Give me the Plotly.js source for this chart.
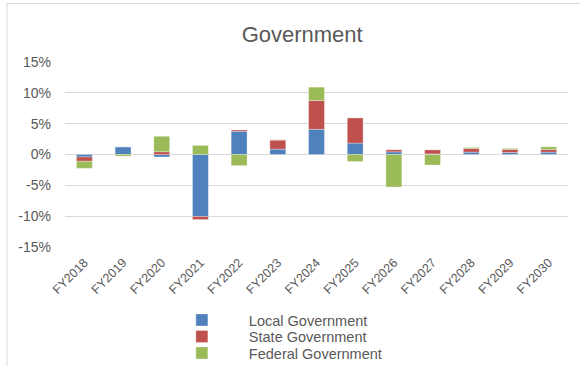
<!DOCTYPE html>
<html>
<head>
<meta charset="utf-8">
<script src="https://cdn.plot.ly/plotly-3.0.1.min.js"></script>
<style>html,body{margin:0;padding:0;background:#fff;}#chart{width:580px;height:366px;}</style>
</head>
<body>
<div id="chart"></div>
<script>
var categories = ['FY2018','FY2019','FY2020','FY2021','FY2022','FY2023','FY2024','FY2025','FY2026','FY2027','FY2028','FY2029','FY2030'];
var localGov   = [-0.40, 1.25, -0.40, -10.05, 3.75, 0.87, 4.08, 1.85, 0.43, 0.10, 0.38, 0.33, 0.38];
var stateGov   = [-0.70, 0.00, 0.45, -0.50, 0.22, 1.47, 4.67, 4.08, 0.33, 0.65, 0.60, 0.49, 0.43];
var federalGov = [-1.14, -0.27, 2.50, 1.47, -1.80, 0.05, 2.17, -1.14, -5.27, -1.70, 0.16, 0.16, 0.43];
var yTickVals = [-15, -10, -5, 0, 5, 10, 15];
var yTickText = ['-15%', '-10%', '-5%', '0%', '5%', '10%', '15%'];

var font = 'Arial, "Liberation Sans", sans-serif';
var textColor = '#595959';

function trace(name, y, color, legendId) {
  return {type: 'bar', name: name, x: categories, y: y, legend: legendId,
    marker: {color: color, line: {color: 'rgba(255,255,255,0.6)', width: 0.5}}, hoverinfo: 'skip'};
}

var data = [
  trace('Local Government', localGov, '#4F81BD', 'legend'),
  trace('State Government', stateGov, '#C0504D', 'legend2'),
  trace('Federal Government', federalGov, '#9BBB59', 'legend3')
];

function legendAt(yPx) {
  return {orientation: 'v', xref: 'container', yref: 'container', x: 0.267, xanchor: 'left',
    y: 1 - yPx / 366, yanchor: 'middle', font: {size: 14.5, color: textColor}, itemwidth: 84,
    bgcolor: 'rgba(0,0,0,0)', borderwidth: 0};
}

var layout = {
  width: 580, height: 366,
  margin: {l: 65, r: 12, t: 62, b: 119, pad: 0, autoexpand: false},
  paper_bgcolor: '#ffffff', plot_bgcolor: '#ffffff',
  barmode: 'relative', bargap: 0.59,
  font: {family: font, color: textColor, size: 13},
  title: {text: 'Government', font: {family: font, size: 22, color: textColor},
    xref: 'container', x: 0.521, xanchor: 'center', yref: 'container', y: 0.907, yanchor: 'middle'},
  xaxis: {type: 'category', tickangle: -45, tickfont: {size: 12.5, color: textColor}, automargin: false,
    showgrid: false, showline: false, ticks: '', zeroline: false, ticklabelstandoff: 5},
  yaxis: {range: [-15, 15], tickvals: yTickVals, ticktext: yTickText, tickfont: {size: 14, color: textColor},
    automargin: false,
    showgrid: true, gridcolor: '#D9D9D9', gridwidth: 1, zeroline: true, zerolinecolor: '#D9D9D9', zerolinewidth: 1,
    ticks: '', showline: false, ticklabelstandoff: 13},
  showlegend: true,
  legend: legendAt(320),
  legend2: legendAt(336.5),
  legend3: legendAt(353),
  shapes: [
    {type: 'line', xref: 'paper', yref: 'paper', x0: -0.1153, x1: -0.1153, y0: -0.7, y1: 1.316, line: {color: '#D9D9D9', width: 1}},
    {type: 'line', xref: 'paper', yref: 'paper', x0: -0.1153, x1: 1.03, y0: 1.316, y1: 1.316, line: {color: '#D9D9D9', width: 1}}
  ]
};

Plotly.newPlot('chart', data, layout, {displayModeBar: false, staticPlot: true});
</script>
</body>
</html>
